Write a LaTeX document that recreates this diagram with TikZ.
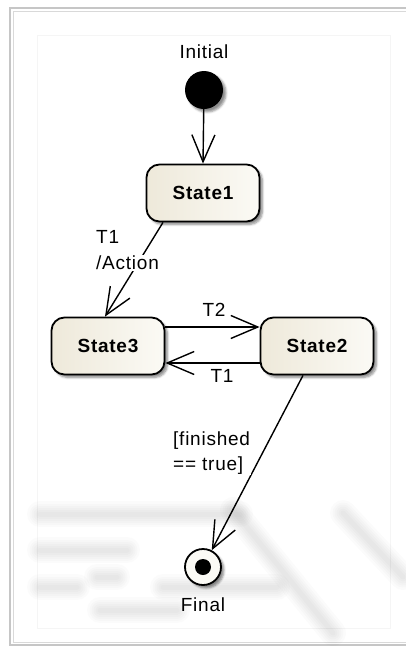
\documentclass[tikz,border=0pt]{standalone}
\usepackage{fontspec}
\setmainfont[LetterSpace=4]{Liberation Sans}
\usetikzlibrary{arrows.meta,shadows.blur,positioning}

\definecolor{cream}{RGB}{238,233,218}
\definecolor{creamlight}{RGB}{251,250,245}

\begin{document}
\begin{tikzpicture}[x=1pt,y=-1pt,
  >={Straight Barb[length=27pt,width=23pt,line width=1.4pt]},
  every node/.style={font=\fontsize{19}{25}\selectfont},
  statebox/.style={draw,line width=1.8pt,rounded corners=13pt,
    minimum width=113pt,minimum height=57pt,
    left color=cream,right color=creamlight,
    blur shadow={shadow xshift=3pt,shadow yshift=-3pt,shadow opacity=45,shadow blur steps=6},
    font=\fontsize{19}{25}\selectfont\bfseries},
  initdot/.style={circle,fill=black,minimum size=38pt,inner sep=0pt,
    blur shadow={shadow xshift=3pt,shadow yshift=-3pt,shadow opacity=45}},
  finalring/.style={circle,draw,line width=1.8pt,fill=creamlight,
    minimum size=36pt,inner sep=0pt,
    blur shadow={shadow xshift=3pt,shadow yshift=-3pt,shadow opacity=45},
    path picture={\fill[black] (path picture bounding box.center) circle (8pt);}},
  trans/.style={->,line width=1.4pt},
  lbl/.style={fill=white,inner sep=1pt,align=left}]

\useasboundingbox (0,0) rectangle (406,651);

% window frame and drawing area
\draw[gray!45,line width=1.5pt] (406,8) -- (10,8) -- (10,645) -- (406,645);
\draw[gray!30,line width=0.6pt] (406,11) -- (13,11) -- (13,642) -- (406,642);
\draw[gray!8] (37,35) rectangle (390,628);

% faded marks behind the lower part
\foreach \w in {26,21,17,13,9,5}{
  \begin{scope}[line width=\w pt,opacity=0.016,line cap=round]
    \draw (40,514) -- (240,514);
    \draw (40,550) -- (127,550);
    \draw (40,587) -- (77,587);
    \draw (163,587) -- (277,587);
    \draw (97,577) -- (117,577);
    \draw (100,610) -- (177,610);
    \draw (233,510) -- (333,633);
    \draw (343,513) -- (403,577);
  \end{scope}
}

% states
\node (initlbl) at (204,52) {Initial};
\node[initdot] (init) at (204,90) {};
\node[statebox] (s1) at (203,193) {State1};
\node[statebox] (s3) at (108,346) {State3};
\node[statebox] (s2) at (317,346) {State2};
\node[finalring] (fin) at (203,567) {};
\node (finlbl) at (203,605) {Final};

% transitions
\draw[trans] (init) -- (s1.north);
\draw[trans] ([xshift=-40pt]s1.south) -- ([xshift=-3pt]s3.north);
\draw[trans] ([yshift=19pt]s3.east) -- ([yshift=19pt]s2.west);
\draw[trans] ([yshift=-17pt]s2.west) -- ([yshift=-17pt]s3.east);
\draw[trans] ([xshift=-14pt]s2.south) -- (fin);

% transition labels
\node[lbl,anchor=west] (lblT1A) at (95,237) {T1};
\node[lbl,anchor=west] (lblAction) at (95,263) {/Action};
\node[lbl] (lblT2) at (214,310) {T2};
\node[lbl] (lblT1) at (222,376) {T1};
\node[lbl,anchor=west] (lblguard) at (172,453) {[finished\\== true]};

\end{tikzpicture}
\end{document}
